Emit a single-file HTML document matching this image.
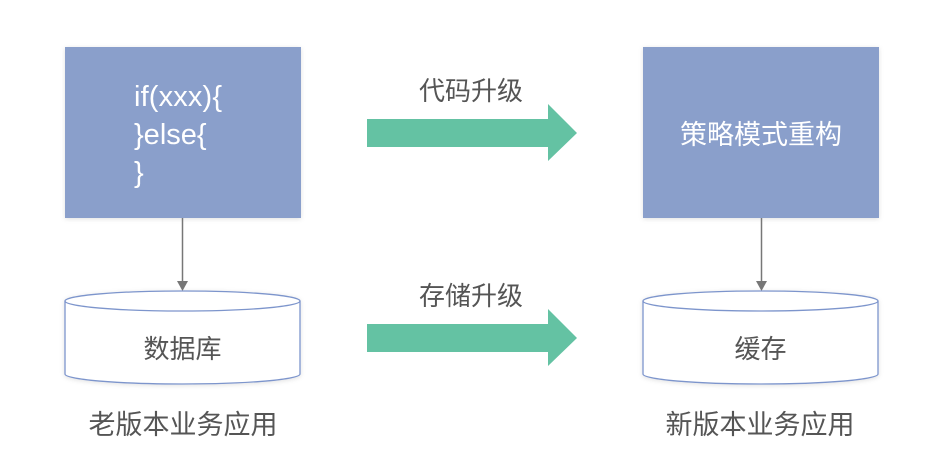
<!DOCTYPE html>
<html><head><meta charset="utf-8"><style>
body{margin:0;background:#fff;}
svg{display:block;}
text{font-family:"Liberation Sans","Noto Sans CJK SC",sans-serif;}
</style></head><body>
<svg width="942" height="471" viewBox="0 0 942 471" xmlns="http://www.w3.org/2000/svg">
<defs>
<filter id="sh" x="-10%" y="-10%" width="120%" height="120%"><feDropShadow dx="0" dy="1" stdDeviation="2.5" flood-color="#000" flood-opacity="0.12"/></filter>
</defs>
<rect x="0" y="0" width="942" height="471" fill="#fff"/>
<rect x="65" y="47" width="236" height="171" fill="#8a9fcb" filter="url(#sh)"/>
<text x="134" y="106" font-size="29" fill="#fff" textLength="88">if(xxx){</text>
<text x="134" y="144" font-size="29" fill="#fff">}else{</text>
<text x="134" y="182" font-size="29" fill="#fff">}</text>
<rect x="643" y="47" width="236" height="171" fill="#8a9fcb" filter="url(#sh)"/>
<text x="761" y="144" font-size="27" fill="#fff" text-anchor="middle">策略模式重构</text>
<line x1="182.5" y1="218" x2="182.5" y2="282" stroke="#777" stroke-width="1.5"/>
<polygon points="177,281 188,281 182.5,291" fill="#777"/>
<line x1="761.5" y1="218" x2="761.5" y2="282" stroke="#777" stroke-width="1.5"/>
<polygon points="756,281 767,281 761.5,291" fill="#777"/>
<g fill="#fff" stroke="#7d95cc" stroke-width="1.3" filter="url(#sh)">
<path d="M65,301 A117.5,10 0 0 1 300,301 L300,374 A117.5,10 0 0 1 65,374 Z"/>
<path d="M643,301 A117.5,10 0 0 1 878,301 L878,374 A117.5,10 0 0 1 643,374 Z"/>
</g>
<g fill="none" stroke="#7d95cc" stroke-width="1.3">
<path d="M65,301 A117.5,10 0 0 0 300,301"/>
<path d="M643,301 A117.5,10 0 0 0 878,301"/>
</g>
<text x="182.5" y="358" font-size="26" fill="#555" text-anchor="middle">数据库</text>
<text x="760.5" y="358" font-size="26" fill="#555" text-anchor="middle">缓存</text>
<polygon points="367,119 548,119 548,104 577,133 548,161 548,147 367,147" fill="#64c2a3"/>
<polygon points="367,324 548,324 548,309 577,338 548,366 548,352 367,352" fill="#64c2a3"/>
<text x="471" y="100" font-size="26" fill="#555" text-anchor="middle">代码升级</text>
<text x="471" y="305" font-size="26" fill="#555" text-anchor="middle">存储升级</text>
<text x="183" y="434" font-size="27" fill="#555" text-anchor="middle">老版本业务应用</text>
<text x="760" y="434" font-size="27" fill="#555" text-anchor="middle">新版本业务应用</text>
</svg>
</body></html>
